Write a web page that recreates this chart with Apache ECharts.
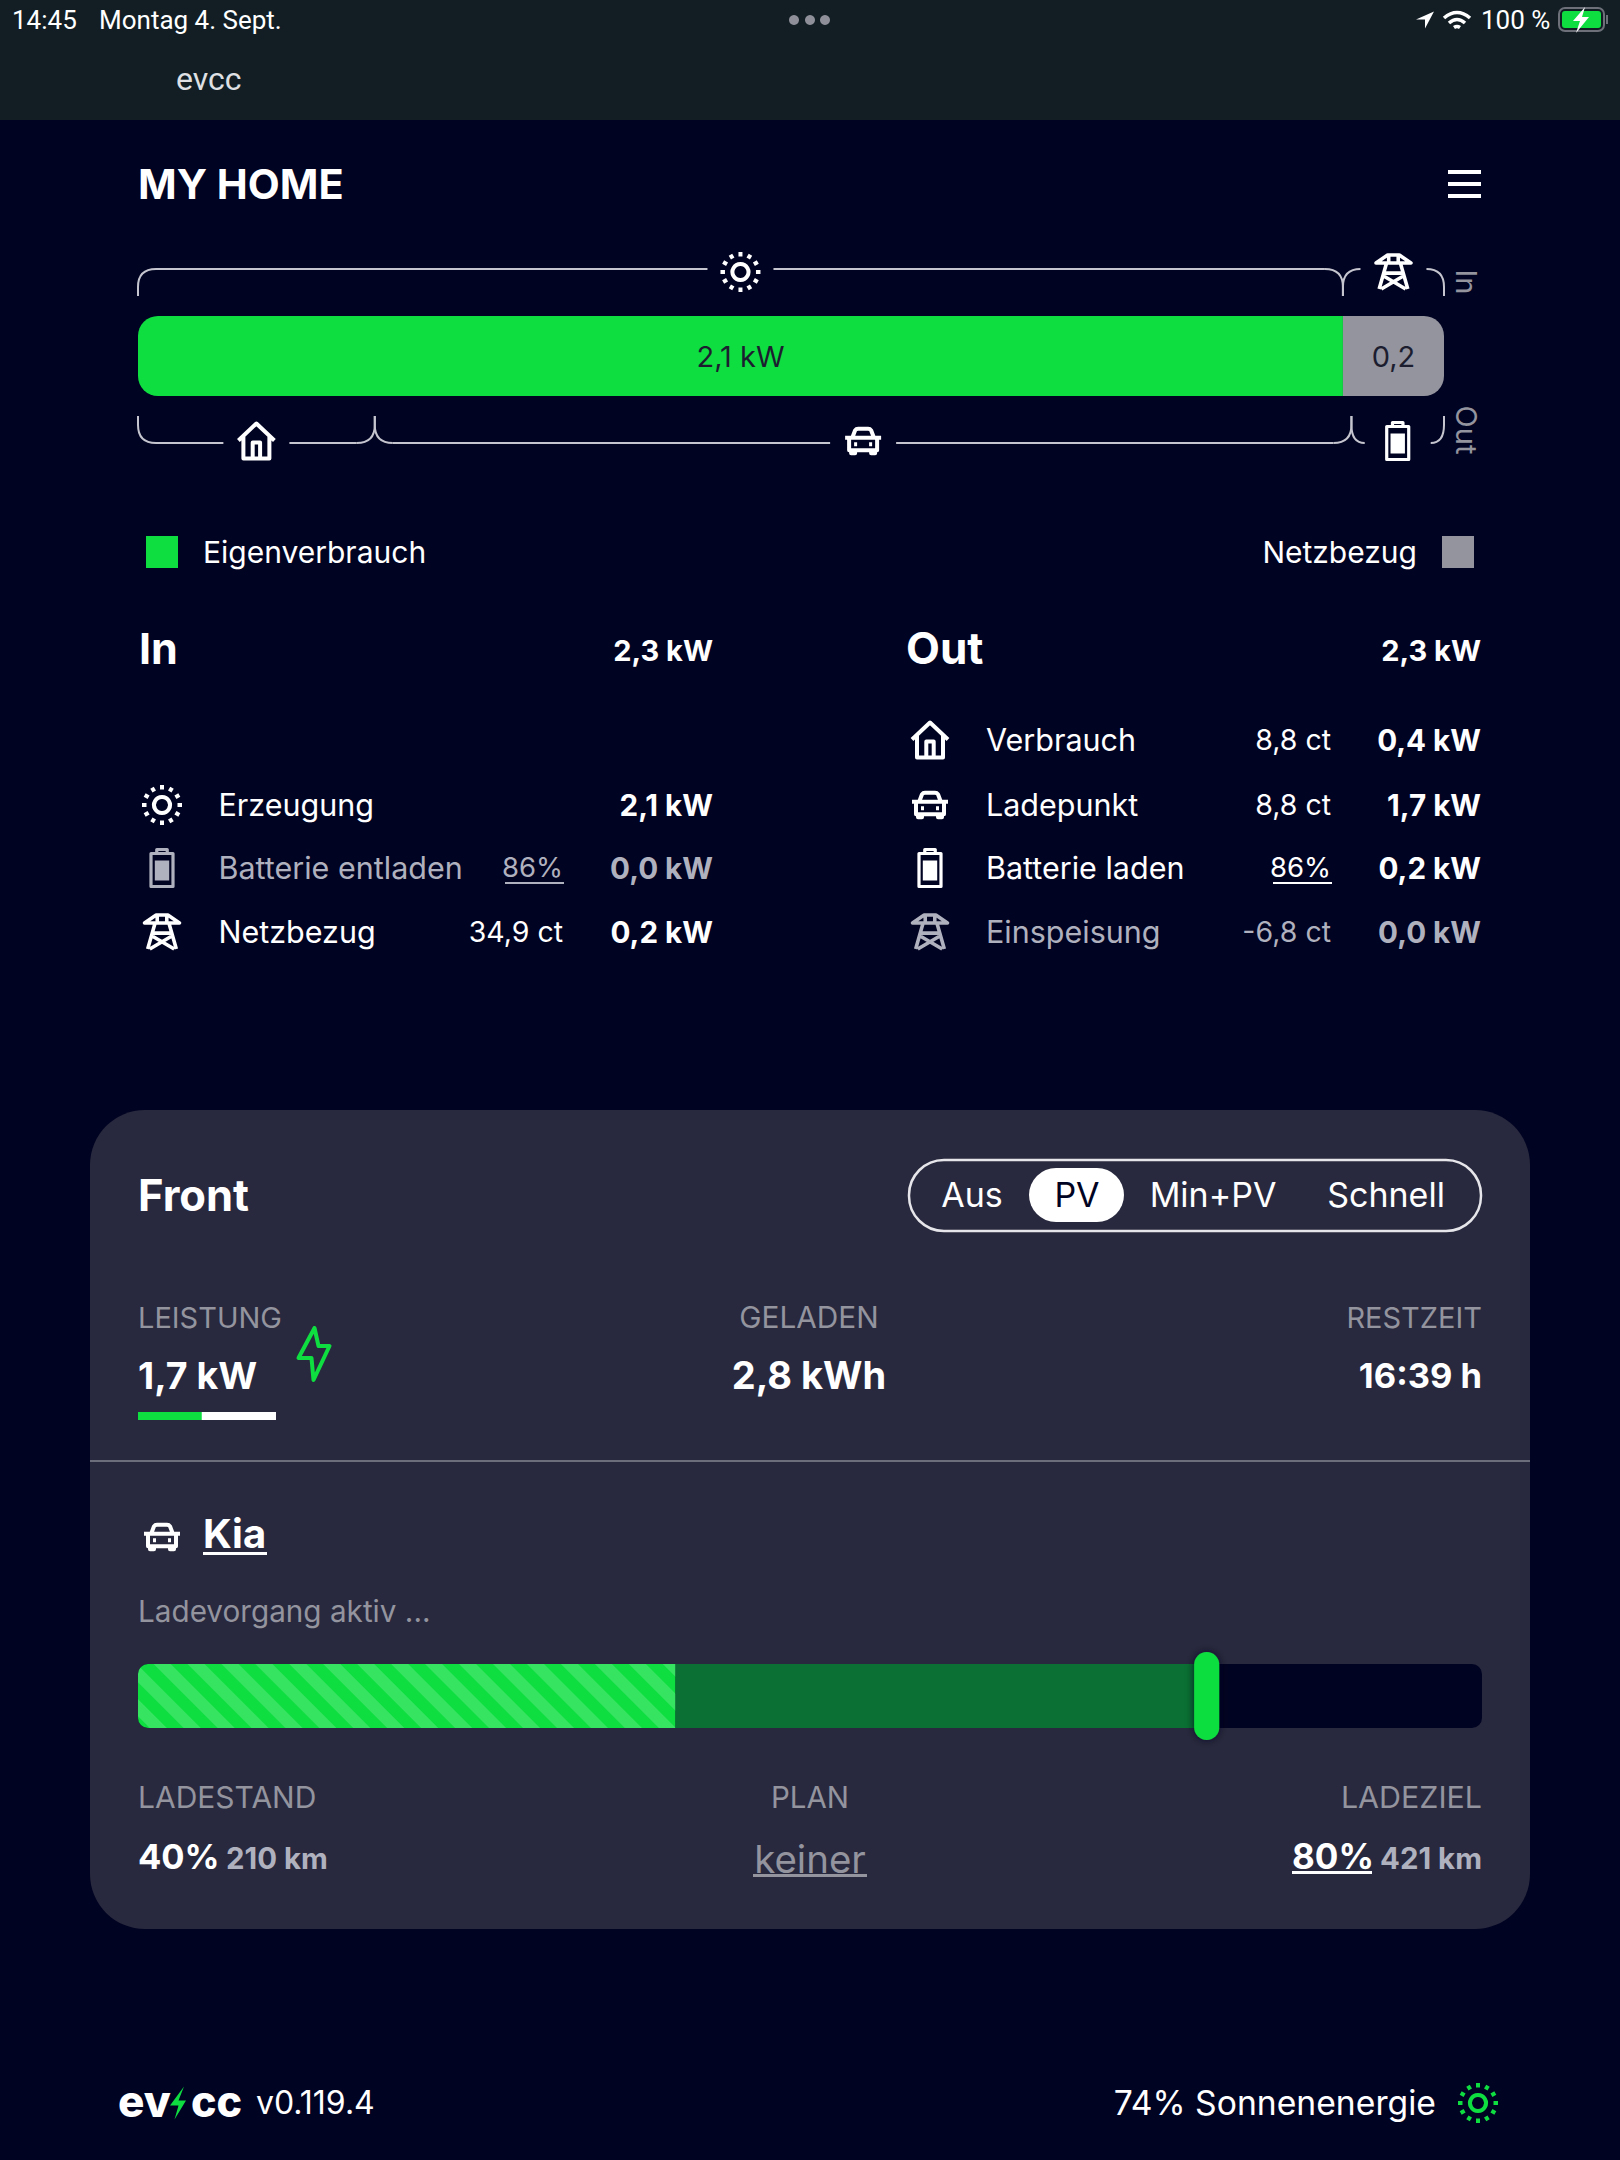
<!DOCTYPE html>
<html><head><meta charset="utf-8">
<style>html,body{margin:0;padding:0;background:#010322}#c{width:1620px;height:2160px}</style>
<script src="https://cdn.jsdelivr.net/npm/echarts@6/dist/echarts.min.js"></script>
</head><body><div id="c"></div>
<script>
// ---------- data ----------
const flowNames = ['Eigenverbrauch', 'Netzbezug'];
const flowValues = [2.122, 0.178];
const flowTotal = 2.3;
const outFlowIcons = ['house', 'car', 'battery'];
const outFlowValues = [0.417, 1.72, 0.163];
const inLabels = ['Erzeugung', 'Batterie entladen', 'Netzbezug'];
const inIcons = ['sun', 'battery', 'tower'];
const inMiddle = ['', '86%', '34,9 ct'];
const inPower = [2.1, 0.0, 0.2];
const outLabels = ['Verbrauch', 'Ladepunkt', 'Batterie laden', 'Einspeisung'];
const outIcons = ['house', 'car', 'battery', 'tower'];
const outMiddle = ['8,8 ct', '8,8 ct', '86%', '-6,8 ct'];
const outPower = [0.4, 1.7, 0.2, 0.0];
const modes = ['Aus', 'PV', 'Min+PV', 'Schnell'];
const chargePower = 1.7;
const chargeMax = 3.68;
const charged = '2,8 kWh';
const remaining = '16:39 h';
const socNow = 40;
const socTarget = 80;
const rangeNow = '210 km';
const rangeTarget = '421 km';
const solarShare = 74;
const version = 'v0.119.4';

// ---------- style ----------
const BG = '#010322', CARD = '#28293e', GREEN = '#0fde41', DARKGREEN = '#0a7033',
      GREY = '#93949e', MUTED = '#b0b1be', WHITE = '#ffffff', BAR = '#c4c5ce';
const FONT = 'Inter, "Noto Sans", sans-serif';
const SYS = 'Roboto, "Liberation Sans", sans-serif';
const fmt = v => v.toFixed(1).replace('.', ',');

function T(text, x, y, size, o) {
  o = o || {};
  return { type: 'text', x, y, z: 20, silent: true, rotation: o.rot || 0,
    style: { text, fontSize: size, fontWeight: o.w || 400, fontFamily: o.f || FONT,
      fill: o.c || WHITE, align: o.a || 'left', verticalAlign: 'middle' } };
}
function R(x, y, w, h, fill, o) {
  o = o || {};
  return { type: 'rect', z: o.z === undefined ? 15 : o.z, silent: true,
    shape: { x, y, width: w, height: h, r: o.r || 0 },
    style: { fill, stroke: o.stroke || null, lineWidth: o.lw || 0 } };
}

// ---------- icons (drawn through a custom series) ----------
function sunPath() {
  let d = 'M20 12A8 8 0 1 1 19.99 12Z';
  for (let i = 0; i < 12; i++) {
    const a = i * Math.PI / 6, s = Math.sin(a), c = Math.cos(a);
    d += 'M' + (20 + 15.5 * s).toFixed(2) + ' ' + (20 - 15.5 * c).toFixed(2) +
         'L' + (20 + 20 * s).toFixed(2) + ' ' + (20 - 20 * c).toFixed(2);
  }
  return d;
}
const ICONS = {
  sun: { d: sunPath(), w: 40, h: 40, lw: 4 },
  tower: { d: 'M3 9L14 2H25L36 9ZM15 2V9M24 2V9M13 9L6 32M26 9L33 32M11 18H28M11 21L31 32M28 21L8 32', w: 35, h: 34, lw: 3.6 },
  house: { d: 'M2 20L20 3L38 20M7 16V38H33V16M16.3 38V22H23.7V38', w: 36, h: 35, lw: 4 },
  car: { d: 'M9 12L12 4Q13 2.5 15 2.5H25Q27 2.5 28 4L31 12M2 11.5H38M6 12V24H34V12M8 24V27H12V24M28 24V27H32V24M11 18H14M26 18H29', w: 36, h: 24.5, lw: 4 },
  battery: { d: 'M7 5.5V1.5H17V5.5M1.5 5.5H22.5V38.5H1.5Z', w: 22, h: 37, lw: 3.2, inner: [3.8, 11, 14.4, 20] },
  bolt: { d: 'M16 0L0 30H13L15 52L31 18H20Z', w: 31, h: 52, lw: 4 },
  logoBolt: { d: 'M14 0L0 19H8.5L4.5 33L16 14H8.5Z', w: 16, h: 33, lw: 0, fill: true },
  arrow: { d: 'M18 0L0 8H9V17Z', w: 18, h: 17, lw: 0, fill: true },
  wifi: { d: 'M1 7Q14 -4 27 7M6 12Q14 5 22 12M11 16.5Q14 14.5 17 16.5', w: 26, h: 15, lw: 3.6 },
  statusBolt: { d: 'M15 0L3 14H10L6 26L19 10H12Z', w: 16, h: 26, lw: 0, fill: true }
};
function iconEl(name, cx, cy, color) {
  const ic = ICONS[name], w = ic.w, h = ic.h;
  const x = cx - w / 2, y = cy - h / 2;
  const path = { type: 'path', shape: { pathData: ic.d, x, y, width: w, height: h, layout: 'cover' },
    style: ic.fill ? { fill: color, stroke: null } : { fill: 'none', stroke: color, lineWidth: ic.lw, lineJoin: 'round' } };
  if (!ic.inner) return path;
  const b = ic.inner;
  return { type: 'group', children: [path,
    { type: 'rect', shape: { x: x + b[0], y: y + b[1], width: b[2], height: b[3] }, style: { fill: color } }] };
}

// ---------- table rows ----------
const rowY = [739, 804, 867, 931];
const inRowY = rowY.slice(1);
const iconItems = [];
const texts = [];
const rects = [];
function rows(labels, icons, middle, power, ys, iconX, labelX, midX, valX) {
  labels.forEach((l, i) => {
    const col = power[i] > 0 || icons[i] === 'sun' ? WHITE : MUTED;
    const y = ys[i];
    iconItems.push([icons[i], iconX, y + 1, col]);
    texts.push(T(l, labelX, y, 30.5, { c: col }));
    const pct = middle[i].endsWith('%');
    if (middle[i]) texts.push(T(middle[i], midX, y, pct ? 27.5 : 28.5, { c: col, a: 'right' }));
    if (pct) rects.push(R(midX - 58, y + 15, 59, 2, col));
    texts.push(T(fmt(power[i]) + ' kW', valX, y + 1, 29.6, { c: col, w: 700, a: 'right' }));
  });
}
rows(inLabels, inIcons, inMiddle, inPower, inRowY, 162, 218.5, 563, 713);
rows(outLabels, outIcons, outMiddle, outPower, rowY, 930, 986, 1331, 1481);

// extra icons
iconItems.push(['bolt', 314, 1354, GREEN], ['car', 162, 1537, WHITE], ['logoBolt', 178, 2103, GREEN],
  ['sun', 1478, 2103, GREEN], ['arrow', 1425, 20, WHITE], ['wifi', 1457, 20, WHITE], ['statusBolt', 1581, 20, WHITE]);

// ---------- static page texts ----------
texts.push(
  T('14:45', 12, 20, 26, { f: SYS }), T('Montag 4. Sept.', 99, 20, 26, { f: SYS }),
  T('100 %', 1481, 20, 26, { f: SYS }), T('evcc', 176, 79, 32, { f: SYS, c: '#dfe0e3' }),
  T('MY HOME', 138, 184, 41.5, { w: 700 }),
  T('In', 139, 648, 43, { w: 700 }), T(fmt(inPower[0] + inPower[1] + inPower[2]) + ' kW', 713, 650, 29, { w: 700, a: 'right' }),
  T('Out', 906, 648, 44, { w: 700 }), T(fmt(outPower[0] + outPower[1] + outPower[2] + outPower[3]) + ' kW', 1481, 650, 29, { w: 700, a: 'right' }),
  T('In', 1466, 282, 29, { c: GREY, a: 'center', rot: -Math.PI / 2 }),
  T('Out', 1466, 430, 29, { c: GREY, a: 'center', rot: -Math.PI / 2 }),
  T('Front', 138, 1195, 43.5, { w: 700 }),
  T('LEISTUNG', 138, 1317, 29, { c: GREY }), T('GELADEN', 809, 1317, 29.8, { c: GREY, a: 'center' }), T('RESTZEIT', 1482, 1317, 29, { c: GREY, a: 'right' }),
  T(fmt(chargePower) + ' kW', 138, 1375, 37.5, { w: 700 }), T(charged, 809, 1375, 38, { w: 700, a: 'center' }), T(remaining, 1482, 1375, 34.5, { w: 700, a: 'right' }),
  T('Kia', 203, 1533, 40, { w: 700 }),
  T('Ladevorgang aktiv ...', 138, 1611, 29.7, { c: GREY }),
  T('LADESTAND', 138, 1797, 30, { c: GREY }), T('PLAN', 810, 1797, 29.5, { c: GREY, a: 'center' }), T('LADEZIEL', 1482, 1797, 30.4, { c: GREY, a: 'right' }),
  T(socNow + '%', 138, 1856, 34.5, { w: 700 }), T(rangeNow, 226, 1858, 29.4, { w: 700, c: MUTED }),
  T('keiner', 810, 1859, 38.5, { c: GREY, a: 'center' }),
  T(socTarget + '%', 1292, 1856, 35, { w: 700 }), T(rangeTarget, 1482, 1858, 29.4, { w: 700, c: MUTED, a: 'right' }),
  T('ev', 118, 2101, 44, { w: 800 }), T('cc', 191, 2101, 43, { w: 800 }),
  T(version, 256, 2102, 32),
  T(solarShare + '% Sonnenenergie', 1436, 2102, 33.7, { a: 'right' })
);
const modeX = [972, 1077, 1213, 1386];
modes.forEach((m, i) => texts.push(T(m, modeX[i], 1194, 34, { a: 'center', c: m === 'PV' ? BG : WHITE })));

rects.push(
  R(0, 0, 1620, 120, '#121e24', { z: -1 }),
  R(90, 1110, 1440, 819, CARD, { z: -1, r: 55 }),
  R(90, 1460, 1440, 2, '#6d6e7c', { z: -0.5 }),
  R(1448, 170, 33, 4, WHITE), R(1448, 182, 33, 4, WHITE), R(1448, 194, 33, 4, WHITE),
  R(909, 1160, 572, 71, 'none', { stroke: '#e6e6ea', lw: 2.5, r: 35, z: 0 }),
  R(1029, 1168, 95, 54, WHITE, { r: 27, z: 0 }),
  R(203, 1552, 64, 3, WHITE), R(753, 1874, 114, 3, GREY), R(1292, 1871, 80, 3, WHITE),
  { type: 'circle', z: 15, silent: true, shape: { cx: 794, cy: 20, r: 5 }, style: { fill: '#8e8f99' } },
  { type: 'circle', z: 15, silent: true, shape: { cx: 810, cy: 20, r: 5 }, style: { fill: '#8e8f99' } },
  { type: 'circle', z: 15, silent: true, shape: { cx: 825, cy: 20, r: 5 }, style: { fill: '#8e8f99' } },
  R(1559, 8, 45, 23, 'none', { stroke: '#6d7079', lw: 2, r: 6, z: 0 }),
  R(1562, 11, 39, 17, GREEN, { r: 3, z: 0 }),
  R(1606, 15, 2, 9, '#6d7079', { z: 0 })
);

// ---------- brackets ----------
function bracketRender(side, iconsList) {
  return function (params, api) {
    const x0 = api.coord([api.value(0), 0])[0];
    const x1 = api.coord([api.value(1), 0])[0];
    const g = params.coordSys;
    const top = side === 'top';
    const tail = top ? g.y - 20 : g.y + g.height + 20;
    const line = top ? g.y - 47 : g.y + g.height + 47;
    const mid = (x0 + x1) / 2;
    const gap = 33;
    const r = Math.min(18, (x1 - x0) / 2 - gap);
    const dir = top ? 1 : -1;
    const st = { stroke: BAR, lineWidth: 2, fill: 'none' };
    const seg = (a, b, c, d) => ({ type: 'line', shape: { x1: a, y1: b, x2: c, y2: d }, style: st });
    const crv = (a, b, c, d, e, f) => ({ type: 'bezierCurve', shape: { x1: a, y1: b, x2: c, y2: d, cpx1: e, cpy1: f }, style: st });
    const rv = 18;
    const icon = iconEl(iconsList[params.dataIndex], mid, line + (top ? 3 : -2), WHITE);
    return { type: 'group', children: [
      seg(x0, tail, x0, line + dir * rv),
      crv(x0, line + dir * rv, x0 + r, line, x0, line),
      seg(x0 + r, line, mid - gap, line),
      seg(mid + gap, line, x1 - r, line),
      crv(x1 - r, line, x1, line + dir * rv, x1, line),
      seg(x1, line + dir * rv, x1, tail),
      icon
    ] };
  };
}
const topRanges = [[0, flowValues[0]], [flowValues[0], flowTotal]];
let acc = 0;
const bottomRanges = outFlowValues.map(v => { const r = [acc, acc + v]; acc += v; return r; });

// ---------- chart ----------
const hidden = i => ({ type: 'value', gridIndex: i, show: false });
const chart = echarts.init(document.getElementById('c'), null, { renderer: 'svg', width: 1620, height: 2160 });
chart.setOption({
  animation: false,
  backgroundColor: BG,
  textStyle: { fontFamily: FONT },
  grid: [
    { left: 138, top: 316, width: 1306, height: 80 },
    { left: 138, top: 1664, width: 1344, height: 64 },
    { left: 138, top: 1412, width: 138, height: 8 }
  ],
  xAxis: [
    Object.assign(hidden(0), { min: 0, max: flowTotal }),
    Object.assign(hidden(1), { min: 0, max: 100 }),
    Object.assign(hidden(2), { min: 0, max: chargeMax })
  ],
  yAxis: [0, 1, 2].map(i => ({ type: 'category', gridIndex: i, show: false, data: [''] })),
  legend: [
    { data: [flowNames[0]], left: 146, top: 536, padding: 0, icon: 'rect', itemWidth: 32, itemHeight: 32, selectedMode: false,
      textStyle: { color: WHITE, fontSize: 30, fontFamily: FONT, padding: [0, 0, 0, 20] } },
    { data: [flowNames[1]], right: 146, top: 536, padding: 0, align: 'right', icon: 'rect', itemWidth: 32, itemHeight: 32, selectedMode: false,
      textStyle: { color: WHITE, fontSize: 30, fontFamily: FONT, padding: [0, 20, 0, 0] } }
  ],
  graphic: { elements: rects.concat(texts) },
  series: [
    { type: 'bar', name: flowNames[0], stack: 'flow', xAxisIndex: 0, yAxisIndex: 0, barWidth: 80, silent: true,
      data: [flowValues[0]], itemStyle: { color: GREEN, borderRadius: [20, 0, 0, 20] },
      label: { show: true, position: 'inside', color: '#1c1e30', fontSize: 29, fontFamily: FONT, formatter: p => fmt(p.value) + ' kW' } },
    { type: 'bar', name: flowNames[1], stack: 'flow', xAxisIndex: 0, yAxisIndex: 0, barWidth: 80, silent: true,
      data: [flowValues[1]], itemStyle: { color: GREY, borderRadius: [0, 20, 20, 0] },
      label: { show: true, position: 'inside', color: '#1c1e30', fontSize: 29, fontFamily: FONT, formatter: p => fmt(p.value) } },
    { type: 'custom', xAxisIndex: 0, yAxisIndex: 0, silent: true, clip: false, encode: { x: [0, 1] }, z: 5,
      renderItem: bracketRender('top', ['sun', 'tower']), data: topRanges },
    { type: 'custom', xAxisIndex: 0, yAxisIndex: 0, silent: true, clip: false, encode: { x: [0, 1] }, z: 5,
      renderItem: bracketRender('bottom', outFlowIcons), data: bottomRanges },

    { type: 'bar', stack: 'soc', xAxisIndex: 1, yAxisIndex: 1, barWidth: 64, silent: true,
      data: [socNow], showBackground: true, backgroundStyle: { color: BG, borderRadius: 10 },
      itemStyle: { color: GREEN, borderRadius: [10, 0, 0, 10],
        decal: { symbol: 'rect', dashArrayX: [1, 0], dashArrayY: [11.3, 11.3], rotation: Math.PI / 4, color: 'rgba(255,255,255,0.17)' } } },
    { type: 'bar', stack: 'soc', xAxisIndex: 1, yAxisIndex: 1, barWidth: 64, silent: true,
      data: [socTarget - socNow], itemStyle: { color: DARKGREEN } },
    { type: 'custom', xAxisIndex: 1, yAxisIndex: 1, silent: true, clip: false, z: 6, encode: { x: 0 }, data: [[socTarget]],
      renderItem: function (params, api) {
        const x = api.coord([api.value(0), 0])[0] - 19;
        const g = params.coordSys;
        return { type: 'rect', shape: { x, y: g.y - 12, width: 25, height: 88, r: 12.5 },
          style: { fill: GREEN, shadowBlur: 8, shadowColor: 'rgba(1,3,34,0.8)' } };
      } },

    { type: 'bar', xAxisIndex: 2, yAxisIndex: 2, barWidth: 8, silent: true, data: [chargePower],
      showBackground: true, backgroundStyle: { color: WHITE }, itemStyle: { color: GREEN } },

    { type: 'custom', coordinateSystem: 'none', silent: true, z: 8, data: iconItems.map((_, i) => [i]),
      renderItem: function (params) {
        const it = iconItems[params.dataIndex];
        return iconEl(it[0], it[1], it[2], it[3]);
      } }
  ]
});
</script></body></html>
